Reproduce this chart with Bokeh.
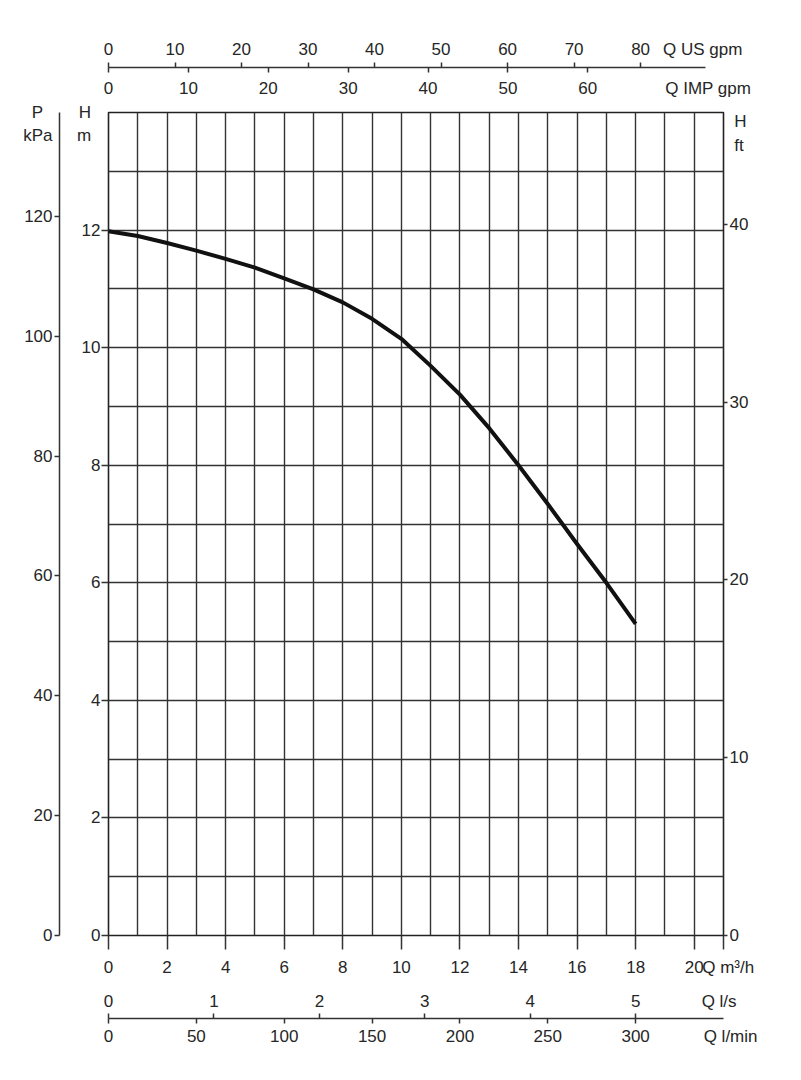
from bokeh.plotting import figure
from bokeh.models import Range1d, LinearAxis, FixedTicker
from bokeh.embed import file_html
from bokeh.resources import INLINE

# ---- data ----
flow_m3h = [0, 1, 2, 3, 4, 5, 6, 7, 8, 9, 10, 11, 12, 13, 14, 15, 16, 17, 18]
head_m = [11.98, 11.90, 11.78, 11.65, 11.51, 11.36, 11.18, 10.99, 10.77, 10.49,
          10.15, 9.69, 9.20, 8.63, 8.00, 7.34, 6.66, 6.00, 5.30]

m3h_ticks = [0, 2, 4, 6, 8, 10, 12, 14, 16, 18, 20]
head_ticks = [0, 2, 4, 6, 8, 10, 12]
kpa_ticks = [0, 20, 40, 60, 80, 100, 120]
ft_ticks = [0, 10, 20, 30, 40]
usgpm_ticks = [0, 10, 20, 30, 40, 50, 60, 70, 80]
impgpm_ticks = [0, 10, 20, 30, 40, 50, 60]
ls_ticks = [0, 1, 2, 3, 4, 5]
lmin_ticks = [0, 50, 100, 150, 200, 250, 300]

# unit titles
T_P, T_KPA, T_HM, T_M = "P", "kPa", "H", "m"
T_HFT, T_FT = "H", "ft"
T_US, T_IMP = "Q US gpm", "Q IMP gpm"
T_M3H, T_LS, T_LMIN = "Q m³/h", "Q l/s", "Q l/min"

Q_MAX = 21
H_MAX = 14
KPA_PER_M = 9.81
FT_MAX = 46.3
M3H_PER_USGPM = 0.2271247
M3H_PER_IMPGPM = 0.2727655
M3H_PER_LS = 3.6
M3H_PER_LMIN = 0.06

# layout: where the unit titles sit (in main-axis units)
Q_TITLE_US = 20.29
Q_TITLE_IMP = 20.48
Q_TITLE_LS = 20.85
H_TITLE_2ND = 13.61     # second line of the left titles
FT_TITLE_1ST = 45.79
FT_TITLE_2ND = 44.45
NB = "\u00a0"

FONT = "Liberation Sans"
FS = "17px"
TXT = "#262626"
LINE = "#333333"

p = figure(width=785, height=1064,
           x_range=Range1d(0, Q_MAX), y_range=Range1d(0, H_MAX),
           output_backend="svg", toolbar_location=None,
           min_border_left=108, min_border_right=62,
           min_border_top=112, min_border_bottom=129)

p.extra_x_ranges = {
    "usgpm": Range1d(0, Q_MAX / M3H_PER_USGPM),
    "impgpm": Range1d(0, Q_MAX / M3H_PER_IMPGPM),
    "ls": Range1d(0, Q_MAX / M3H_PER_LS),
    "lmin": Range1d(0, Q_MAX / M3H_PER_LMIN),
}
p.extra_y_ranges = {
    "kpa": Range1d(0, H_MAX * KPA_PER_M),
    "ft": Range1d(0, FT_MAX),
}

p.outline_line_color = "#222222"
p.outline_line_width = 1.6
p.background_fill_color = "white"
p.border_fill_color = "white"

p.xgrid.ticker = FixedTicker(ticks=list(range(0, Q_MAX + 1)))
p.ygrid.ticker = FixedTicker(ticks=list(range(0, H_MAX + 1)))
p.grid.grid_line_color = LINE
p.grid.grid_line_width = 1.4


def style(ax, tick_out=0, line=False, standoff=2):
    """Labels come from major ticks (marks hidden); visible marks are minor ticks."""
    ax.major_label_text_font = FONT
    ax.major_label_text_font_size = FS
    ax.major_label_text_color = TXT
    ax.major_tick_out = tick_out
    ax.major_tick_in = 0
    ax.major_tick_line_color = None
    ax.minor_tick_line_color = LINE
    ax.minor_tick_line_width = 1.5
    ax.minor_tick_out = tick_out
    ax.minor_tick_in = 0
    ax.axis_line_color = LINE if line else None
    ax.axis_line_width = 1.5
    ax.major_label_standoff = standoff


def spacer(ax, size, standoff):
    ax.axis_label = " "
    ax.axis_label_text_font = FONT
    ax.axis_label_text_font_size = size
    ax.axis_label_standoff = standoff


# ---- bottom: m3/h ----
xa = p.xaxis[0]
xa.ticker = FixedTicker(ticks=m3h_ticks + [Q_MAX], minor_ticks=m3h_ticks + [Q_MAX])
style(xa, tick_out=14, standoff=8)
xa.major_label_overrides = {Q_MAX: NB * 2 + T_M3H}

# ---- left: H m ----
ya = p.yaxis[0]
ya.ticker = FixedTicker(ticks=head_ticks + [H_TITLE_2ND, H_MAX], minor_ticks=head_ticks)
style(ya, tick_out=7, standoff=1)
ya.major_label_overrides = {H_MAX: T_HM + NB * 2, H_TITLE_2ND: T_M + NB * 2}
spacer(ya, "10px", 0)

# ---- left: P kPa ----
kpa_top = H_MAX * KPA_PER_M
kpa_2nd = H_TITLE_2ND * KPA_PER_M
kpa_ax = LinearAxis(y_range_name="kpa",
                    ticker=FixedTicker(ticks=kpa_ticks + [kpa_2nd, kpa_top],
                                       minor_ticks=kpa_ticks))
style(kpa_ax, tick_out=5, line=True, standoff=2)
kpa_ax.major_label_overrides = {kpa_top: T_P + NB * 2, kpa_2nd: T_KPA}
p.add_layout(kpa_ax, "left")

# ---- right: H ft ----
ft_ax = LinearAxis(y_range_name="ft",
                   ticker=FixedTicker(ticks=ft_ticks + [FT_TITLE_2ND, FT_TITLE_1ST],
                                      minor_ticks=ft_ticks))
style(ft_ax, tick_out=4, standoff=2)
ft_ax.major_label_overrides = {FT_TITLE_1ST: NB + T_HFT, FT_TITLE_2ND: NB + T_FT}
p.add_layout(ft_ax, "right")

# ---- top: IMP gpm labels (closest to the frame) ----
imp_title = Q_TITLE_IMP / M3H_PER_IMPGPM
imp_ax = LinearAxis(x_range_name="impgpm",
                    ticker=FixedTicker(ticks=impgpm_ticks + [imp_title], minor_ticks=[]))
style(imp_ax, tick_out=0, standoff=15)
imp_ax.major_label_overrides = {imp_title: T_IMP}
spacer(imp_ax, "4px", 0)
p.add_layout(imp_ax, "above")

# ---- top: shared line with IMP gpm marks pointing down ----
imp_in_us = [v * M3H_PER_IMPGPM / M3H_PER_USGPM for v in impgpm_ticks]
top_line = LinearAxis(x_range_name="usgpm",
                      ticker=FixedTicker(ticks=[], minor_ticks=imp_in_us))
style(top_line, tick_out=0, line=True, standoff=0)
top_line.minor_tick_in = 5
top_line.minor_tick_out = 0
top_line.bounds = (0, 89.8)
p.add_layout(top_line, "above")

# ---- top: US gpm marks (up) and labels ----
us_title = Q_TITLE_US / M3H_PER_USGPM
us_ax = LinearAxis(x_range_name="usgpm",
                   ticker=FixedTicker(ticks=usgpm_ticks + [us_title], minor_ticks=usgpm_ticks))
style(us_ax, tick_out=5, standoff=4)
us_ax.major_label_overrides = {us_title: T_US}
p.add_layout(us_ax, "above")

# ---- bottom: l/s labels ----
ls_title = Q_TITLE_LS / M3H_PER_LS
ls_ax = LinearAxis(x_range_name="ls",
                   ticker=FixedTicker(ticks=ls_ticks + [ls_title], minor_ticks=[]))
style(ls_ax, tick_out=6, standoff=6)
ls_ax.major_label_overrides = {ls_title: T_LS}
spacer(ls_ax, "2px", 0)
p.add_layout(ls_ax, "below")

# ---- bottom: shared line with l/s marks pointing up ----
ls_in_lmin = [v * M3H_PER_LS / M3H_PER_LMIN for v in ls_ticks]
bot_line = LinearAxis(x_range_name="lmin",
                      ticker=FixedTicker(ticks=[], minor_ticks=ls_in_lmin))
style(bot_line, tick_out=0, line=True, standoff=0)
bot_line.minor_tick_in = 5
bot_line.minor_tick_out = 0
p.add_layout(bot_line, "below")

# ---- bottom: l/min marks (down) and labels ----
lmin_end = Q_MAX / M3H_PER_LMIN
lmin_ax = LinearAxis(x_range_name="lmin",
                     ticker=FixedTicker(ticks=lmin_ticks + [lmin_end], minor_ticks=lmin_ticks))
style(lmin_ax, tick_out=5, standoff=3)
lmin_ax.major_label_overrides = {lmin_end: NB * 3 + T_LMIN}
p.add_layout(lmin_ax, "below")

# pump curve
p.line(flow_m3h, head_m, line_width=4, line_color="#111111", line_join="round")

open("out.html", "w").write(file_html(p, INLINE))
